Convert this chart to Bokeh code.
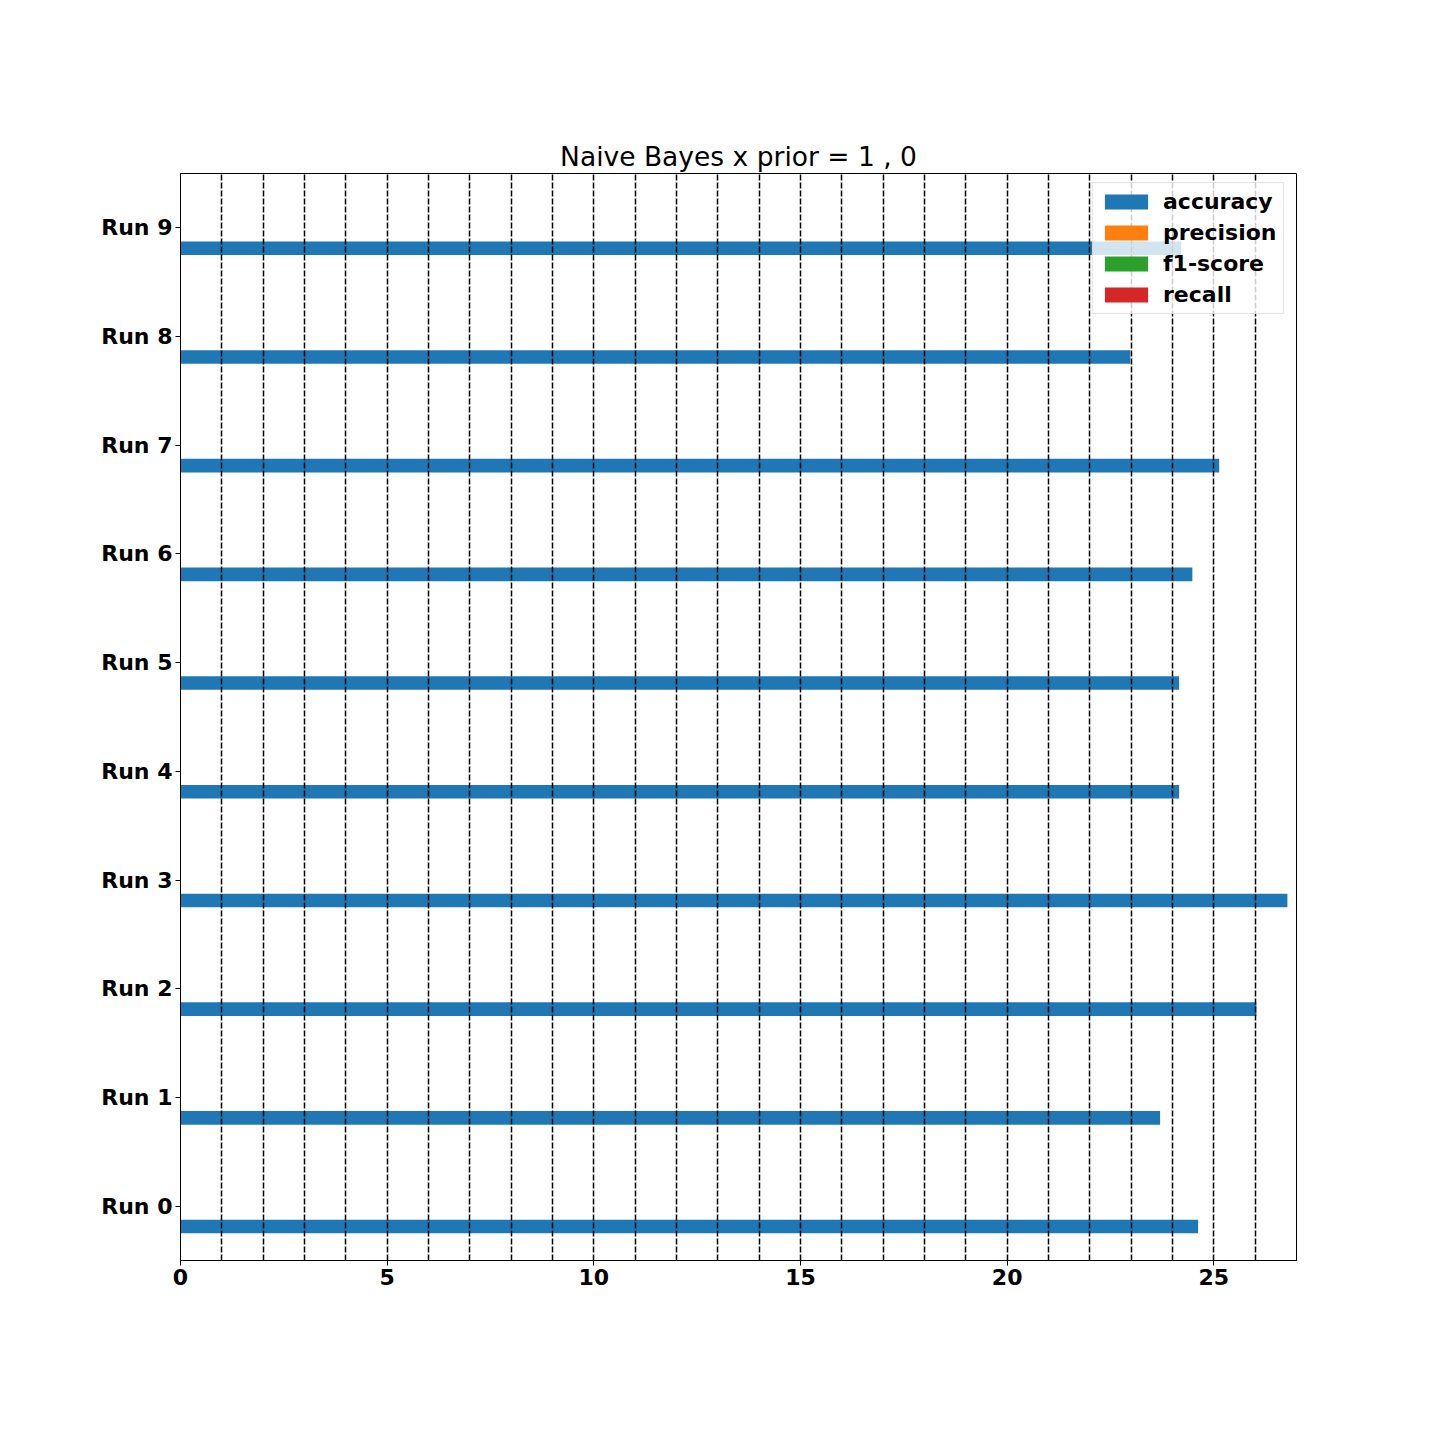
from bokeh.plotting import figure
from bokeh.models import FixedTicker, Range1d, Legend, LegendItem
from bokeh.transform import dodge
from bokeh.models import ColumnDataSource
from bokeh.embed import file_html
from bokeh.resources import INLINE

runs = ["Run 0", "Run 1", "Run 2", "Run 3", "Run 4", "Run 5", "Run 6", "Run 7", "Run 8", "Run 9"]
accuracy = [24.62, 23.70, 26.03, 26.78, 24.16, 24.16, 24.48, 25.13, 22.98, 24.21]
precision = [0, 0, 0, 0, 0, 0, 0, 0, 0, 0]
f1_score = [0, 0, 0, 0, 0, 0, 0, 0, 0, 0]
recall = [0, 0, 0, 0, 0, 0, 0, 0, 0, 0]
series_names = ["accuracy", "precision", "f1-score", "recall"]
colors = ["#1f77b4", "#ff7f0e", "#2ca02c", "#d62728"]
x_ticks = [0, 5, 10, 15, 20, 25]

pos = list(range(len(runs)))
src = ColumnDataSource(dict(pos=pos, accuracy=accuracy, precision=precision,
                            f1=f1_score, recall=recall))

p = figure(width=1440, height=1440, output_backend="svg", toolbar_location=None,
           x_range=Range1d(0, 27), y_range=Range1d(-0.5, 9.5),
           min_border_left=180, min_border_right=144, min_border_top=173,
           min_border_bottom=180, title="Naive Bayes x prior = 1 , 0")

bar_h = 0.125
offsets = [-0.1875, -0.0625, 0.0625, 0.1875]
cols = ["accuracy", "precision", "f1", "recall"]
items = []
for name, col, c, off in zip(series_names, cols, colors, offsets):
    r = p.hbar(y=dodge("pos", off, range=p.y_range), right=col, left=0, height=bar_h,
               source=src, fill_color=c, line_color=None)
    items.append(LegendItem(label=name, renderers=[r]))

p.title.align = "center"
p.title.text_font = "DejaVu Sans"
p.title.text_font_size = "26.5px"
p.title.text_font_style = "normal"
p.title.text_color = "black"
p.title.standoff = 3

p.xaxis.ticker = FixedTicker(ticks=x_ticks)
p.yaxis.ticker = FixedTicker(ticks=pos)
p.yaxis.major_label_overrides = {i: r for i, r in zip(pos, runs)}
for ax in (p.xaxis[0], p.yaxis[0]):
    ax.major_label_text_font = "DejaVu Sans"
    ax.major_label_text_font_size = "22px"
    ax.major_label_text_font_style = "bold"
    ax.major_label_text_color = "black"
    ax.major_tick_in = 0
    ax.major_tick_out = 5
    ax.minor_tick_line_color = None
    ax.axis_line_color = "black"
    ax.major_tick_line_color = "black"
    ax.major_label_standoff = 3

p.ygrid.grid_line_color = None
p.xgrid.ticker = FixedTicker(ticks=list(range(0, 28)))
p.xgrid.grid_line_color = "black"
p.xgrid.grid_line_dash = "6 2"
p.xgrid.grid_line_width = 1.5
p.xgrid.level = "guide"

p.outline_line_color = "black"
p.outline_line_width = 1
p.outline_line_alpha = 1

legend = Legend(items=items, location=(912, 946))
legend.label_text_font = "DejaVu Sans"
legend.label_text_font_size = "22px"
legend.label_text_font_style = "bold"
legend.label_text_color = "black"
legend.glyph_width = 54
legend.glyph_height = 19
legend.spacing = 6
legend.padding = 6
legend.margin = 0
legend.label_standoff = 10
legend.border_line_color = "#cccccc"
legend.background_fill_alpha = 0.8
p.add_layout(legend)

open("out.html", "w").write(file_html(p, INLINE))
